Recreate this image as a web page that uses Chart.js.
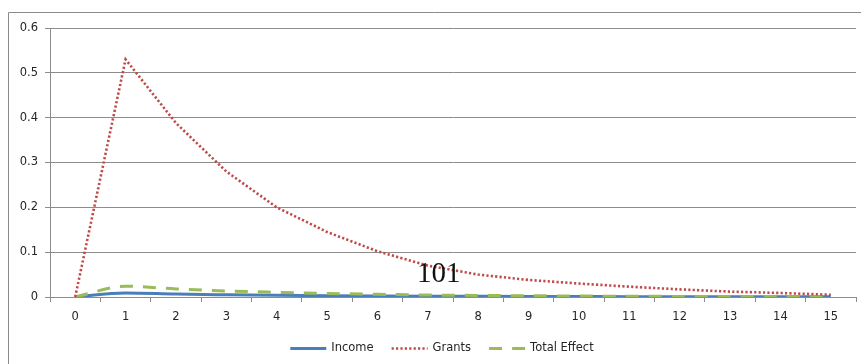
<!DOCTYPE html>
<html>
<head>
<meta charset="utf-8">
<script src="https://cdn.jsdelivr.net/npm/chart.js@4/dist/chart.umd.min.js"></script>
<style>
  html, body { margin: 0; padding: 0; background: #ffffff; }
  #wrap { width: 861px; height: 364px; position: relative; }
</style>
</head>
<body>
<div id="wrap"><canvas id="c" width="861" height="364"></canvas></div>
<script>
// Periods after the shock
const periods = ['0','1','2','3','4','5','6','7','8','9','10','11','12','13','14','15'];

// Response of each variable per period
const income = [0, 0.009, 0.0065, 0.005, 0.0038, 0.003, 0.0024, 0.0019, 0.0015, 0.0012, 0.001, 0.0008, 0.0006, 0.0005, 0.0004, 0.0003];
const grants = [0, 0.53, 0.388, 0.28, 0.2, 0.145, 0.102, 0.07, 0.05, 0.038, 0.03, 0.023, 0.017, 0.012, 0.009, 0.005];
const totalEffect = [0, 0.024, 0.018, 0.0135, 0.0105, 0.008, 0.006, 0.0045, 0.0035, 0.0028, 0.0022, 0.0017, 0.0013, 0.001, 0.0008, 0.0005];

const yTicks = [0, 0.1, 0.2, 0.3, 0.4, 0.5, 0.6];

const AXIS_GREY = '#8c8c8c';
const TEXT = '#262626';
const FONT = 'DejaVu Sans';

// Frame around the whole chart (top and left edges visible)
const framePlugin = {
  id: 'frame',
  beforeDraw(chart) {
    const ctx = chart.ctx;
    ctx.save();
    ctx.fillStyle = '#ffffff';
    ctx.fillRect(0, 0, chart.width, chart.height);
    ctx.strokeStyle = '#8a8a8a';
    ctx.lineWidth = 1;
    ctx.beginPath();
    ctx.moveTo(8.5, chart.height);
    ctx.lineTo(8.5, 12.5);
    ctx.lineTo(chart.width, 12.5);
    ctx.stroke();
    ctx.restore();
  }
};

// Legend with line samples taken from each dataset's stroke style
const lineLegend = {
  id: 'lineLegend',
  afterDraw(chart) {
    const ctx = chart.ctx;
    const sample = 36, gap = 5, itemGap = 18;
    const y = 348.5;
    ctx.save();
    ctx.font = '11.5px "' + FONT + '"';
    const items = chart.data.datasets.map(ds => ({ ds, w: ctx.measureText(ds.label).width }));
    const total = items.reduce((s, it) => s + sample + gap + it.w, 0) + itemGap * (items.length - 1);
    let x = 442 - total / 2;
    items.forEach(it => {
      const ds = it.ds;
      ctx.strokeStyle = ds.borderColor;
      ctx.lineWidth = ds.borderWidth;
      ctx.lineCap = ds.borderCapStyle || 'butt';
      ctx.setLineDash(ds.borderDash || []);
      ctx.beginPath();
      ctx.moveTo(x, y);
      ctx.lineTo(x + sample, y);
      ctx.stroke();
      ctx.setLineDash([]);
      ctx.fillStyle = TEXT;
      ctx.textBaseline = 'middle';
      ctx.textAlign = 'left';
      ctx.fillText(ds.label, x + sample + gap, y);
      x += sample + gap + it.w + itemGap;
    });
    ctx.restore();
  }
};

// Page number printed over the plot
const pageNumber = {
  id: 'pageNumber',
  afterDraw(chart) {
    const ctx = chart.ctx;
    ctx.save();
    ctx.font = '29px "Liberation Serif"';
    ctx.fillStyle = '#111111';
    ctx.textBaseline = 'alphabetic';
    ctx.textAlign = 'left';
    ctx.fillText('101', 417, 282);
    ctx.restore();
  }
};

new Chart(document.getElementById('c'), {
  type: 'line',
  data: {
    labels: periods,
    datasets: [
      {
        label: 'Income',
        data: income,
        borderColor: '#4a7ebb',
        borderWidth: 3,
        cubicInterpolationMode: 'monotone',
        pointRadius: 0,
        fill: false,
        order: 3
      },
      {
        label: 'Grants',
        data: grants,
        borderColor: '#be4b48',
        borderWidth: 2.6,
        borderDash: [2.2, 2.2],
        borderCapStyle: 'butt',
        tension: 0,
        pointRadius: 0,
        fill: false,
        order: 1
      },
      {
        label: 'Total Effect',
        data: totalEffect,
        borderColor: '#9bbb59',
        borderWidth: 3,
        borderDash: [13, 10],
        cubicInterpolationMode: 'monotone',
        pointRadius: 0,
        fill: false,
        order: 2
      }
    ]
  },
  options: {
    responsive: false,
    animation: false,
    events: [],
    layout: { padding: { left: 0, right: 5, top: 28, bottom: 37 } },
    plugins: {
      legend: { display: false },
      tooltip: { enabled: false },
      title: { display: false }
    },
    scales: {
      x: {
        type: 'category',
        offset: true,
        grid: {
          display: true,
          offset: true,
          drawOnChartArea: false,
          drawTicks: true,
          tickLength: 5,
          color: AXIS_GREY,
          lineWidth: 1
        },
        border: { display: true, color: AXIS_GREY, width: 1 },
        ticks: {
          color: TEXT,
          font: { family: FONT, size: 11.5 },
          padding: 8,
          maxRotation: 0,
          autoSkip: false
        },
        afterFit(s) { s.height = 30; }
      },
      y: {
        min: 0,
        max: 0.6,
        afterBuildTicks(s) { s.ticks = yTicks.map(v => ({ value: v })); },
        grid: {
          display: true,
          drawTicks: true,
          tickLength: 5,
          color: AXIS_GREY,
          lineWidth: 1
        },
        border: { display: true, color: AXIS_GREY, width: 1 },
        ticks: {
          color: TEXT,
          font: { family: FONT, size: 11.5 },
          padding: 7,
          callback: v => String(Math.round(v * 10) / 10)
        },
        afterFit(s) { s.width = 50; }
      }
    }
  },
  plugins: [framePlugin, lineLegend, pageNumber]
});
</script>
</body>
</html>
